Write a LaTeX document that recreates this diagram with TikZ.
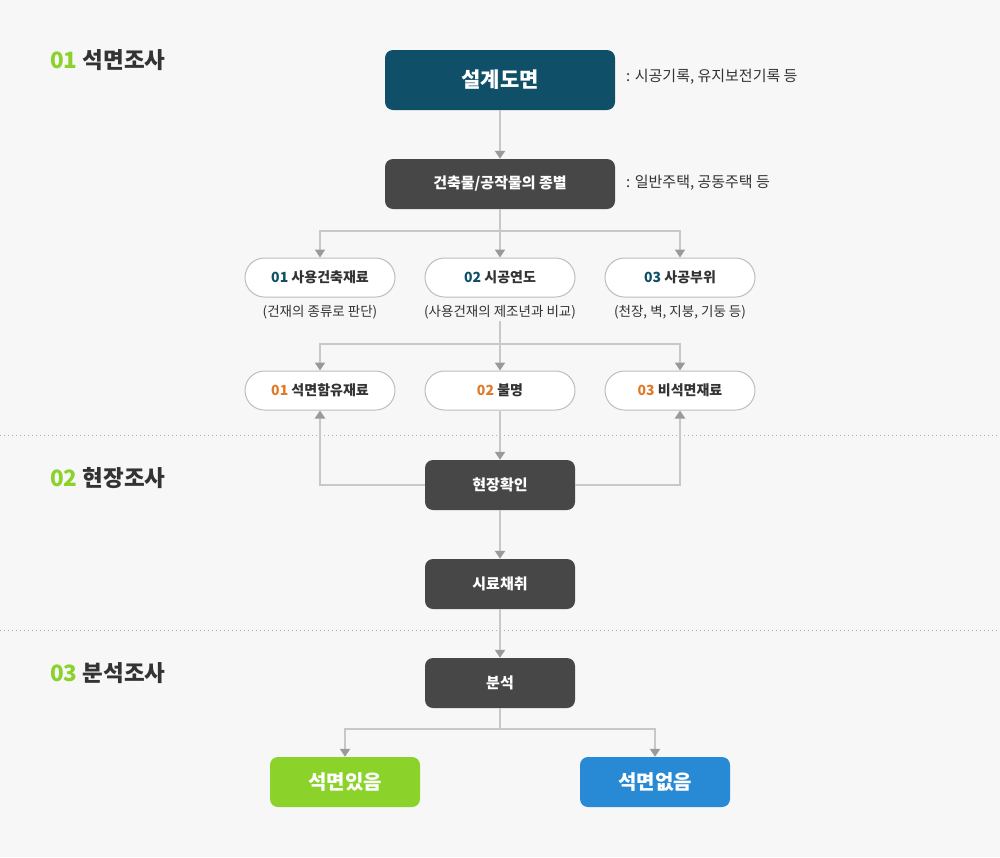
\documentclass[tikz,border=0pt]{standalone}
\usepackage{fontspec}
\setmainfont{Noto Sans CJK KR}
\usetikzlibrary{arrows.meta}
\definecolor{bggray}{HTML}{F7F7F7}
\definecolor{navy}{HTML}{0F5068}
\definecolor{darkgray}{HTML}{474747}
\definecolor{linegray}{HTML}{C8C8C8}
\definecolor{tipgray}{HTML}{9A9A9A}
\definecolor{pillgray}{HTML}{BDBDBD}
\definecolor{txtgray}{HTML}{333333}
\definecolor{orange}{HTML}{E07A28}
\definecolor{leaf}{HTML}{8BD22A}
\definecolor{sky}{HTML}{288AD4}

\begin{document}
\begin{tikzpicture}[x=1pt, y=-1pt,
	darkbox/.style={fill=darkgray, rounded corners=8pt, minimum width=150pt, minimum height=50pt, inner sep=0pt, text=white, font=\fontsize{15}{17}\selectfont\bfseries},
	pill/.style={fill=white, draw=pillgray, line width=1pt, rounded corners=19.5pt, minimum width=150pt, minimum height=39pt, inner sep=0pt, text=txtgray, font=\fontsize{14}{16}\selectfont\bfseries},
	note/.style={anchor=west, inner sep=0pt, text=txtgray, font=\fontsize{15}{17}\selectfont},
	sub/.style={inner sep=2pt, text=txtgray, font=\fontsize{13.5}{15}\selectfont},
	stage/.style={anchor=west, inner sep=0pt, text=txtgray, font=\fontsize{22.5}{25}\selectfont\bfseries},
	result/.style={rounded corners=8pt, minimum width=150pt, minimum height=50pt, inner sep=0pt, text=white, font=\fontsize{20}{22}\selectfont\bfseries},
	conn/.style={draw=linegray, line width=2pt, -{Triangle[width=10pt, length=8pt, color=tipgray]}},
	plain/.style={draw=linegray, line width=2pt}]

	\fill[bggray] (0, 0) rectangle (1000, 857);
	\useasboundingbox (0, 0) rectangle (1000, 857);

	% stage dividers
	\draw[tipgray!80, line width=0.8pt, dash pattern=on 1pt off 3pt] (0, 435) -- (1000, 435);
	\draw[tipgray!80, line width=0.8pt, dash pattern=on 1pt off 3pt] (0, 630) -- (1000, 630);

	% stage titles
	\node[stage] (t1) at (50, 60) {\textcolor{leaf}{01} 석면조사};
	\node[stage] (t2) at (50, 478) {\textcolor{leaf}{02} 현장조사};
	\node[stage] (t3) at (50, 673) {\textcolor{leaf}{03} 분석조사};

	% 01
	\node[darkbox, fill=navy, minimum width=230pt, minimum height=60pt, font=\fontsize{21}{23}\selectfont\bfseries] (design) at (500, 80) {설계도면};
	\node[note] (n1) at (626, 77) {: 시공기록, 유지보전기록 등};
	\node[darkbox, minimum width=230pt] (kind) at (500, 184) {건축물/공작물의 종별};
	\node[note] (n2) at (626, 183) {: 일반주택, 공동주택 등};

	\node[pill] (m1) at (320, 277.5) {\textcolor{navy}{01} 사용건축재료};
	\node[pill] (m2) at (500, 277.5) {\textcolor{navy}{02} 시공연도};
	\node[pill] (m3) at (680, 277.5) {\textcolor{navy}{03} 사공부위};
	\node[sub] (s1) at (320, 312) {(건재의 종류로 판단)};
	\node[sub] (s2) at (500, 312) {(사용건재의 제조년과 비교)};
	\node[sub] (s3) at (680, 312) {(천장, 벽, 지붕, 기둥 등)};

	\node[pill] (r1) at (320, 390.5) {\textcolor{orange}{01} 석면함유재료};
	\node[pill] (r2) at (500, 390.5) {\textcolor{orange}{02} 불명};
	\node[pill] (r3) at (680, 390.5) {\textcolor{orange}{03} 비석면재료};

	% 02, 03
	\node[darkbox] (site) at (500, 485) {현장확인};
	\node[darkbox] (sample) at (500, 584) {시료채취};
	\node[darkbox] (anal) at (500, 683) {분석};
	\node[result, fill=leaf] (yes) at (345, 782) {석면있음};
	\node[result, fill=sky] (no) at (655, 782) {석면없음};

	\coordinate (k1) at (500, 231);
	\coordinate (k2) at (500, 344);
	\coordinate (k3) at (500, 729);

	\draw[conn] (design) -- (kind);
	\draw[plain] (kind) -- (k1);
	\draw[conn] (k1) -| (m1.north);
	\draw[conn] (k1) -- (m2);
	\draw[conn] (k1) -| (m3.north);

	\draw[plain] (s2.south) -- (k2);
	\draw[conn] (k2) -| (r1.north);
	\draw[conn] (k2) -- (r2);
	\draw[conn] (k2) -| (r3.north);

	\draw[conn] (r2) -- (site);
	\draw[conn] (site.west) -| (r1.south);
	\draw[conn] (site.east) -| (r3.south);
	\draw[conn] (site) -- (sample);
	\draw[conn] (sample) -- (anal);
	\draw[plain] (anal) -- (k3);
	\draw[conn] (k3) -| (yes.north);
	\draw[conn] (k3) -| (no.north);
\end{tikzpicture}
\end{document}
